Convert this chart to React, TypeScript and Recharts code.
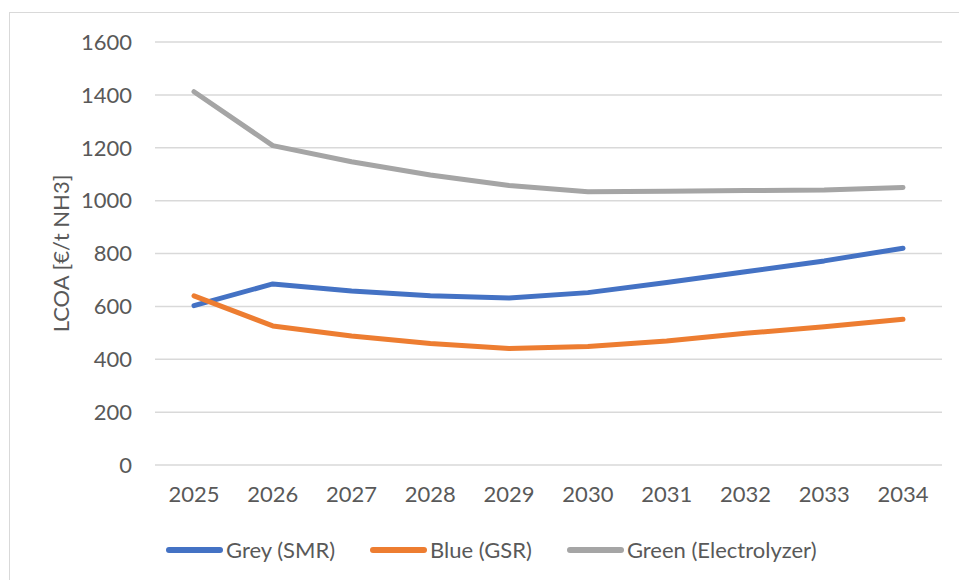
import { LineChart, Line, XAxis, YAxis, CartesianGrid } from 'recharts';

const years = ['2025', '2026', '2027', '2028', '2029', '2030', '2031', '2032', '2033', '2034'];
const greySmr = [603, 685, 658, 640, 632, 652, 690, 731, 772, 820];
const blueGsr = [640, 526, 488, 460, 441, 448, 469, 498, 523, 551];
const greenElectrolyzer = [1412, 1208, 1147, 1097, 1057, 1034, 1035, 1038, 1040, 1050];
const yTicks = [0, 200, 400, 600, 800, 1000, 1200, 1400, 1600];

const series = [
  { key: 'grey', name: 'Grey (SMR)', color: '#4472C4' },
  { key: 'blue', name: 'Blue (GSR)', color: '#ED7D31' },
  { key: 'green', name: 'Green (Electrolyzer)', color: '#A5A5A5' },
];

const data = years.map((year, i) => ({
  year,
  grey: greySmr[i],
  blue: blueGsr[i],
  green: greenElectrolyzer[i],
}));

const FONT = 'Lato, "Liberation Sans", sans-serif';
const TEXT = '#595959';
const FONT_SIZE = 22;

function AxisTitle({ viewBox }: { viewBox?: { x: number; y: number; width: number; height: number } }) {
  if (!viewBox) return null;
  const cx = viewBox.x + 60;
  const cy = viewBox.y + viewBox.height / 2;
  return (
    <text
      x={cx}
      y={cy}
      transform={`rotate(-90 ${cx} ${cy})`}
      textAnchor="middle"
      dominantBaseline="central"
      fill={TEXT}
      fontSize={FONT_SIZE}
      fontFamily={FONT}
    >
      LCOA [€/t NH3]
    </text>
  );
}

// legend sits under the plot, outside the svg so it takes no room from the axes
function SeriesLegend() {
  return (
    <div
      style={{
        position: 'absolute',
        left: 165,
        top: 537,
        display: 'flex',
        alignItems: 'center',
        fontFamily: FONT,
        fontSize: FONT_SIZE,
        color: TEXT,
        lineHeight: '26px',
        whiteSpace: 'nowrap',
      }}
    >
      {series.map((s, i) => (
        <div key={s.key} style={{ display: 'flex', alignItems: 'center', marginLeft: i === 0 ? 0 : 34 }}>
          <svg width={58} height={8} style={{ marginRight: 3 }}>
            <line x1={4} y1={4} x2={55} y2={4} stroke={s.color} strokeWidth={6} strokeLinecap="round" />
          </svg>
          <span>{s.name}</span>
        </div>
      ))}
    </div>
  );
}

export default function App() {
  return (
    <div style={{ position: 'fixed', left: 0, top: 0, width: 959, height: 580, overflow: 'hidden', background: '#FFFFFF' }}>
      <div style={{ position: 'absolute', left: 9, top: 12, width: 1000, height: 700, border: '1px solid #D9D9D9' }} />
      <div style={{ position: 'absolute', left: 0, top: 0 }}>
        <LineChart width={959} height={580} data={data} margin={{ top: 42, right: 17, bottom: 85, left: 0 }}>
          <CartesianGrid vertical={false} stroke="#D9D9D9" strokeWidth={1.5} />
          <XAxis
            dataKey="year"
            height={30}
            padding={{ left: 39, right: 39 }}
            axisLine={false}
            tickLine={false}
            tickSize={0}
            tickMargin={21}
            tick={{ fill: TEXT, fontSize: FONT_SIZE, fontFamily: FONT }}
            interval={0}
          />
          <YAxis
            width={155}
            domain={[0, 1600]}
            ticks={yTicks}
            axisLine={false}
            tickLine={false}
            tickSize={0}
            tickMargin={23}
            tick={{ fill: TEXT, fontSize: FONT_SIZE, fontFamily: FONT }}
            label={<AxisTitle />}
          />
          {series.map((s) => (
            <Line
              key={s.key}
              dataKey={s.key}
              name={s.name}
              stroke={s.color}
              strokeWidth={5}
              strokeLinecap="round"
              strokeLinejoin="round"
              dot={false}
              activeDot={false}
              type="linear"
              isAnimationActive={false}
            />
          ))}
        </LineChart>
      </div>
      <SeriesLegend />
    </div>
  );
}
